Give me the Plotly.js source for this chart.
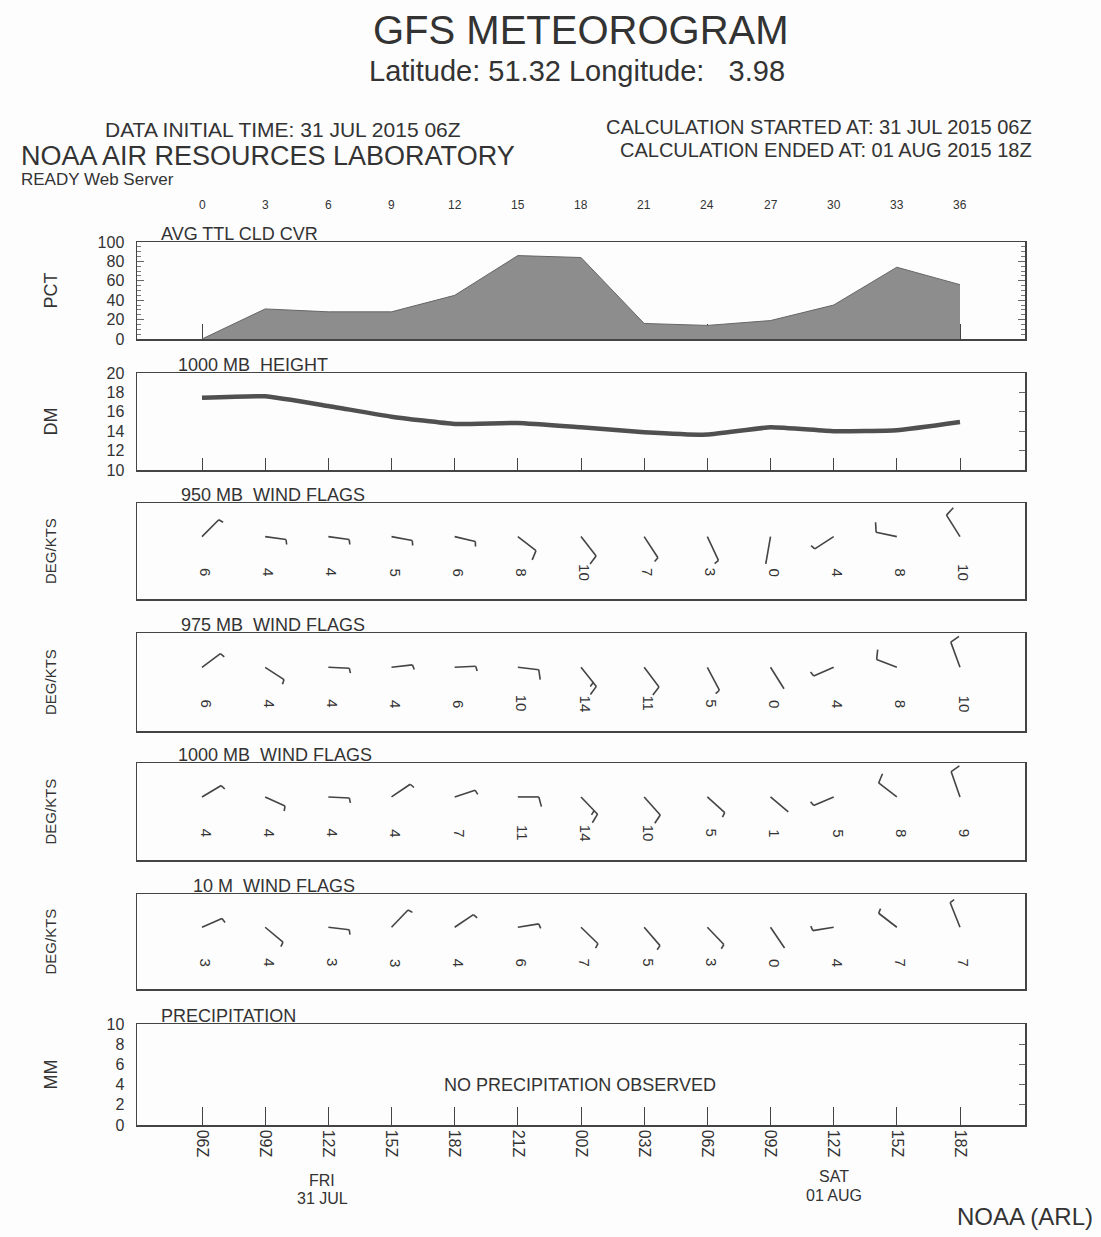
<!DOCTYPE html>
<html><head><meta charset="utf-8">
<script src="https://cdn.plot.ly/plotly-3.0.1.min.js"></script>
<style>html,body{margin:0;padding:0;background:#fdfdfd}</style>
</head><body><div id="chart" style="width:1101px;height:1237px"></div>
<script>
// ---------------- DATA ----------------
const hours = [0,3,6,9,12,15,18,21,24,27,30,33,36];
const hourLabels = ["0","3","6","9","12","15","18","21","24","27","30","33","36"];
const cloudCover = [0,31,28,28,45,86,84,16,14,19,35,74,56];
const height1000 = [17.45,17.6,16.6,15.5,14.75,14.85,14.4,13.9,13.65,14.4,14.0,14.1,14.95];
const dir950  = [53,96,96,98,100,120,134,139,148,193,244,279,320];
const spd950  = [6,4,4,5,6,8,10,7,3,0,4,8,10];
const dir975  = [61,116,92,85,88,95,133,135,145,140,252,286,334];
const spd975  = [6,4,4,4,6,10,14,11,5,0,4,8,10];
const dir1000 = [66,109,92,63,76,90,128,130,124,122,252,300,335];
const spd1000 = [4,4,4,4,7,11,14,10,5,1,5,8,9];
const dir10m  = [72,122,95,52,63,83,126,131,128,138,263,300,332];
const spd10m  = [3,4,3,3,4,6,7,5,3,0,4,7,7];
const timeLabels = ["06Z","09Z","12Z","15Z","18Z","21Z","00Z","03Z","06Z","09Z","12Z","15Z","18Z"];

// ---------------- LAYOUT GEOMETRY ----------------
const W = 1101, H = 1237;
const X0 = 137, X1 = 1025;
const K = (960 - 202) / 36;               // px per hour
const xr = [-(202 - X0) / K, 36 + (X1 - 960) / K];
const xdom = [X0 / W, X1 / W];
const P = {
  cloud: [242, 339], height: [373, 470],
  w950: [503, 599], w975: [633, 731], w1000: [763, 860], w10m: [894, 989],
  precip: [1024, 1125]
};
const dom = p => [1 - p[1] / H, 1 - p[0] / H];
const FONT = 'Liberation Sans, Arial, sans-serif';
const TXT = '#333333';
const LINE = '#444444';

function xa(extra) {
  return Object.assign({domain: xdom, range: xr, showgrid: false, zeroline: false,
    showline: true, linecolor: LINE, linewidth: 1.5, mirror: true,
    ticks: '', showticklabels: false, fixedrange: true}, extra || {});
}
function ya(p, extra) {
  return Object.assign({domain: dom(p), showgrid: false, zeroline: false,
    showline: true, linecolor: LINE, linewidth: 1.5, mirror: true,
    ticks: '', showticklabels: false, fixedrange: true,
    tickfont: {family: FONT, size: 16, color: TXT}}, extra || {});
}

// ---------------- WIND FLAGS ----------------
function flagTrace(dirs, spds, p, xname, yname) {
  const ph = p[1] - p[0];
  const Lx = 21, Ly = 28, st = 0.65, tilt = 15 * Math.PI / 180;
  const xs = [], ys = [];
  hours.forEach((h, i) => {
    const t = dirs[i] * Math.PI / 180;
    const sx = Lx * Math.sin(t), sy = Ly * Math.cos(t);
    const len = Math.hypot(sx, sy);
    const ux = sx / len, uy = sy / len;
    xs.push(h, h + sx / K, null); ys.push(st, st + sy / ph, null);
    const n = Math.round(spds[i] / 5);
    const full = Math.floor(n / 2), half = n % 2;
    const bx = uy * Math.cos(tilt) + ux * Math.sin(tilt);
    const by = -ux * Math.cos(tilt) + uy * Math.sin(tilt);
    let pos = len;
    const add = (bl) => {
      const ax = ux * pos, ay = uy * pos;
      xs.push(h + ax / K, h + (ax + bx * bl) / K, null);
      ys.push(st + ay / ph, st + (ay + by * bl) / ph, null);
      pos -= 5;
    };
    for (let f = 0; f < full; f++) add(10);
    if (half) add(5);
  });
  return {x: xs, y: ys, xaxis: xname, yaxis: yname, mode: 'lines', type: 'scatter',
    line: {color: LINE, width: 1.6}, hoverinfo: 'skip', showlegend: false};
}
function speedLabels(spds, yref, xref) {
  return hours.map((h, i) => ({x: h, y: 0.28, xref: xref, yref: yref, text: String(spds[i]),
    showarrow: false, textangle: 90, xshift: 4, yanchor: 'middle',
    font: {family: FONT, size: 15, color: TXT}}));
}

// ---------------- TRACES ----------------
const traces = [
  {x: hours, y: cloudCover, xaxis: 'x', yaxis: 'y', type: 'scatter', mode: 'lines',
   fill: 'tozeroy', fillcolor: '#8d8d8d', line: {color: '#666', width: 1},
   hoverinfo: 'skip', showlegend: false},
  {x: hours, y: height1000, xaxis: 'x2', yaxis: 'y2', type: 'scatter', mode: 'lines',
   line: {color: '#505050', width: 4.5, shape: 'spline', smoothing: 0.4},
   hoverinfo: 'skip', showlegend: false},
  {x: [xr[0]], y: [15], xaxis: 'x2', yaxis: 'y8', type: 'scatter', mode: 'markers',
   marker: {opacity: 0}, hoverinfo: 'skip', showlegend: false},
  {x: [xr[0]], y: [5], xaxis: 'x7', yaxis: 'y9', type: 'scatter', mode: 'markers',
   marker: {opacity: 0}, hoverinfo: 'skip', showlegend: false},
  {x: [xr[0]], y: [5], xaxis: 'x7', yaxis: 'y7', type: 'scatter', mode: 'markers',
   marker: {opacity: 0}, hoverinfo: 'skip', showlegend: false},
  flagTrace(dir950, spd950, P.w950, 'x3', 'y3'),
  flagTrace(dir975, spd975, P.w975, 'x4', 'y4'),
  flagTrace(dir1000, spd1000, P.w1000, 'x5', 'y5'),
  flagTrace(dir10m, spd10m, P.w10m, 'x6', 'y6')
];

// ---------------- ANNOTATIONS ----------------
const ann = [];
const T = (text, xpx, ypx, size, xanchor, yanchor, extra) =>
  ann.push(Object.assign({text: text, x: xpx / W, y: 1 - ypx / H, xref: 'paper', yref: 'paper',
    showarrow: false, xanchor: xanchor || 'center', yanchor: yanchor || 'middle', borderpad: 0,
    font: {family: FONT, size: size, color: TXT}}, extra || {}));

T('GFS METEOROGRAM', 581, 30, 40);
T('Latitude: 51.32 Longitude:\u00a0\u00a0\u00a03.98', 577, 71, 29);
T('DATA INITIAL TIME: 31 JUL 2015 06Z', 283, 129, 21);
T('NOAA AIR RESOURCES LABORATORY', 20, 156, 27, 'left');
T('READY Web Server', 20, 180, 17, 'left');
T('CALCULATION STARTED AT: 31 JUL 2015 06Z', 1033, 127, 20, 'right');
T('CALCULATION ENDED AT: 01 AUG 2015 18Z', 1033, 150, 20, 'right');

// panel titles
T('AVG TTL CLD CVR', 160, P.cloud[0] - 8, 18, 'left');
T('1000 MB\u00a0\u00a0HEIGHT', 177, P.height[0] - 8, 18, 'left');
T('950 MB\u00a0\u00a0WIND FLAGS', 180, P.w950[0] - 8, 18, 'left');
T('975 MB\u00a0\u00a0WIND FLAGS', 180, P.w975[0] - 8, 18, 'left');
T('1000 MB\u00a0\u00a0WIND FLAGS', 177, P.w1000[0] - 8, 18, 'left');
T('10 M\u00a0\u00a0WIND FLAGS', 192, P.w10m[0] - 8, 18, 'left');
T('PRECIPITATION', 160, P.precip[0] - 8, 18, 'left');

// y titles
T('PCT', 50, (P.cloud[0] + P.cloud[1]) / 2, 18, 'center', 'middle', {textangle: -90});
T('DM', 50, (P.height[0] + P.height[1]) / 2, 18, 'center', 'middle', {textangle: -90});
T('DEG/KTS', 50, (P.w950[0] + P.w950[1]) / 2, 15, 'center', 'middle', {textangle: -90});
T('DEG/KTS', 50, (P.w975[0] + P.w975[1]) / 2, 15, 'center', 'middle', {textangle: -90});
T('DEG/KTS', 50, (P.w1000[0] + P.w1000[1]) / 2, 15, 'center', 'middle', {textangle: -90});
T('DEG/KTS', 50, (P.w10m[0] + P.w10m[1]) / 2, 15, 'center', 'middle', {textangle: -90});
T('MM', 50, (P.precip[0] + P.precip[1]) / 2, 18, 'center', 'middle', {textangle: -90});

T('NO PRECIPITATION OBSERVED', 580, 1085, 18);
T('NOAA (ARL)', 1025, 1216, 24);

// top hour labels
hours.forEach((h, i) => ann.push({x: h, xref: 'x', y: 1 - 205 / H, yref: 'paper', text: hourLabels[i],
  yanchor: 'middle', showarrow: false, font: {family: FONT, size: 12, color: TXT}}));
// day labels
const dayAnn = (h, ypx, txt, xs) => ann.push({x: h, xref: 'x7', y: 1 - ypx / H, yref: 'paper', text: txt,
  xshift: xs, yanchor: 'middle', showarrow: false, font: {family: FONT, size: 16, color: TXT}});
dayAnn(hours[2], 1180, 'FRI', -6);
dayAnn(hours[2], 1198, '31 JUL', -6);
dayAnn(hours[10], 1176, 'SAT', 0);
dayAnn(hours[10], 1195, '01 AUG', 0);

ann.push(...speedLabels(spd950, 'y3', 'x3'));
ann.push(...speedLabels(spd975, 'y4', 'x4'));
ann.push(...speedLabels(spd1000, 'y5', 'x5'));
ann.push(...speedLabels(spd10m, 'y6', 'x6'));

// ---------------- LAYOUT ----------------
const layout = {
  width: W, height: H, margin: {l: 0, r: 0, t: 0, b: 0},
  paper_bgcolor: '#fdfdfd', plot_bgcolor: 'rgba(0,0,0,0)',
  showlegend: false, font: {family: FONT, color: TXT},
  xaxis: xa({anchor: 'y', tickvals: hours, ticks: 'inside', ticklen: 15, tickcolor: LINE, layer: 'below traces'}),
  yaxis: ya(P.cloud, {anchor: 'x', range: [0, 100], tickvals: [0, 20, 40, 60, 80, 100],
    showticklabels: true, ticks: 'inside', ticklen: 7, tickcolor: '#666', mirror: 'ticks',
    ticklabelstandoff: 8,
    minor: {ticks: 'inside', ticklen: 4, dtick: 5, tick0: 0, tickcolor: '#777'}}),
  xaxis2: xa({anchor: 'y2', tickvals: hours, ticks: 'inside', ticklen: 12, tickcolor: LINE}),
  yaxis2: ya(P.height, {anchor: 'x2', range: [10, 20], dtick: 2, showticklabels: true, ticklabelstandoff: 8}),
  yaxis8: {overlaying: 'y2', side: 'right', anchor: 'x2', range: [10, 20], tickvals: [12, 14, 16, 18],
    ticks: 'inside', ticklen: 6, tickcolor: '#666', showticklabels: false, showline: false,
    showgrid: false, zeroline: false, fixedrange: true},
  xaxis3: xa({anchor: 'y3'}), yaxis3: ya(P.w950, {anchor: 'x3', range: [0, 1]}),
  xaxis4: xa({anchor: 'y4'}), yaxis4: ya(P.w975, {anchor: 'x4', range: [0, 1]}),
  xaxis5: xa({anchor: 'y5'}), yaxis5: ya(P.w1000, {anchor: 'x5', range: [0, 1]}),
  xaxis6: xa({anchor: 'y6'}), yaxis6: ya(P.w10m, {anchor: 'x6', range: [0, 1]}),
  xaxis7: xa({anchor: 'y7', tickvals: hours, ticktext: timeLabels, ticks: 'inside', ticklen: 18,
    tickcolor: LINE, showticklabels: true, tickangle: 90,
    tickfont: {family: FONT, size: 16, color: TXT}}),
  yaxis7: ya(P.precip, {anchor: 'x7', range: [0, 10], dtick: 2, showticklabels: true, ticklabelstandoff: 8}),
  yaxis9: {overlaying: 'y7', side: 'right', anchor: 'x7', range: [0, 10], tickvals: [2, 4, 6, 8],
    ticks: 'inside', ticklen: 6, tickcolor: '#666', showticklabels: false, showline: false,
    showgrid: false, zeroline: false, fixedrange: true},
  annotations: ann
};

Plotly.newPlot('chart', traces, layout, {staticPlot: true, displayModeBar: false});
</script>
</body></html>
